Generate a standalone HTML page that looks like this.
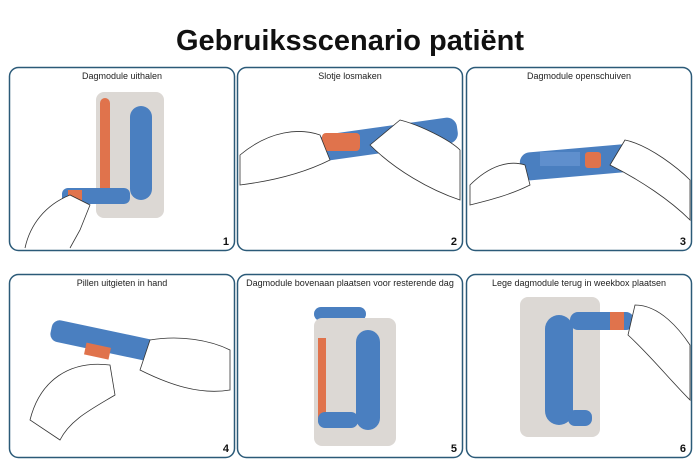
<!DOCTYPE html>
<html><head><meta charset="utf-8"><style>
html,body{margin:0;padding:0;background:#fff;width:700px;height:467px;overflow:hidden}
</style></head><body>
<svg width="700" height="467" viewBox="0 0 700 467" xmlns="http://www.w3.org/2000/svg" font-family="Liberation Sans, sans-serif">
<text x="350" y="50" text-anchor="middle" font-size="29" font-weight="bold" fill="#111">Gebruiksscenario patiënt</text>
<g fill="none" stroke="#2b5a78" stroke-width="1.5">
<rect x="9.5" y="67.5" width="225" height="183" rx="9"/>
<rect x="237.5" y="67.5" width="225" height="183" rx="9"/>
<rect x="466.5" y="67.5" width="225" height="183" rx="9"/>
<rect x="9.5" y="274.5" width="225" height="183" rx="9"/>
<rect x="237.5" y="274.5" width="225" height="183" rx="9"/>
<rect x="466.5" y="274.5" width="225" height="183" rx="9"/>
</g>
<g font-size="9" fill="#222" text-anchor="middle">
<text x="122" y="79">Dagmodule uithalen</text>
<text x="350" y="79">Slotje losmaken</text>
<text x="579" y="79">Dagmodule openschuiven</text>
<text x="122" y="286">Pillen uitgieten in hand</text>
<text x="350" y="286">Dagmodule bovenaan plaatsen voor resterende dag</text>
<text x="579" y="286">Lege dagmodule terug in weekbox plaatsen</text>
</g>
<g font-size="11" font-weight="bold" fill="#111" text-anchor="end">
<text x="229" y="245">1</text><text x="457" y="245">2</text><text x="686" y="245">3</text>
<text x="229" y="452">4</text><text x="457" y="452">5</text><text x="686" y="452">6</text>
</g>
<!-- Panel 1 -->
<rect x="96" y="92" width="68" height="126" rx="8" fill="#dcd8d4"/>
<rect x="130" y="106" width="22" height="94" rx="11" fill="#4a7fc0"/>
<rect x="100" y="98" width="10" height="98" rx="5" fill="#e0734c"/>
<rect x="62" y="188" width="68" height="16" rx="6" fill="#4a7fc0"/>
<rect x="68" y="190" width="14" height="12" fill="#e0734c"/>
<path d="M25 248 C30 225 45 205 70 195 L90 205 L80 230 L70 248" fill="#fff" stroke="#333" stroke-width="0.8"/>
<!-- Panel 2 -->
<rect x="318" y="126" width="140" height="26" rx="10" fill="#4a7fc0" transform="rotate(-8 388 139)"/>
<rect x="322" y="133" width="38" height="18" rx="4" fill="#e0734c"/>
<path d="M240 155 C270 130 300 128 320 135 L330 160 C310 170 280 180 240 185Z" fill="#fff" stroke="#333" stroke-width="0.8"/>
<path d="M460 200 C430 190 395 170 370 145 L400 120 C420 125 450 140 460 150Z" fill="#fff" stroke="#333" stroke-width="0.8"/>
<!-- Panel 3 -->
<rect x="520" y="148" width="120" height="28" rx="10" fill="#4a7fc0" transform="rotate(-5 580 162)"/>
<rect x="540" y="152" width="40" height="14" fill="#5f8fcd"/>
<rect x="585" y="152" width="16" height="16" rx="3" fill="#e0734c"/>
<path d="M470 185 C490 165 510 160 525 165 L530 185 C510 195 490 200 470 205Z" fill="#fff" stroke="#333" stroke-width="0.8"/>
<path d="M690 220 C670 200 640 180 610 165 L625 140 C650 145 680 170 690 180Z" fill="#fff" stroke="#333" stroke-width="0.8"/>
<!-- Panel 4 -->
<rect x="50" y="330" width="110" height="22" rx="8" fill="#4a7fc0" transform="rotate(12 105 341)"/>
<rect x="85" y="345" width="25" height="12" fill="#e0734c" transform="rotate(12 97 351)"/>
<path d="M30 420 C40 380 70 360 110 365 L115 395 C90 410 70 420 60 440Z" fill="#fff" stroke="#333" stroke-width="0.8"/>
<path d="M230 390 C200 395 170 385 140 370 L150 340 C180 335 210 340 230 350Z" fill="#fff" stroke="#333" stroke-width="0.8"/>
<!-- Panel 5 -->
<rect x="314" y="307" width="52" height="14" rx="7" fill="#4a7fc0"/>
<rect x="314" y="318" width="82" height="128" rx="8" fill="#dcd8d4"/>
<rect x="356" y="330" width="24" height="100" rx="12" fill="#4a7fc0"/>
<rect x="318" y="338" width="8" height="84" fill="#e0734c"/>
<rect x="318" y="412" width="40" height="16" rx="7" fill="#4a7fc0"/>
<!-- Panel 6 -->
<rect x="520" y="297" width="80" height="140" rx="8" fill="#dcd8d4"/>
<rect x="545" y="315" width="28" height="110" rx="14" fill="#4a7fc0"/>
<rect x="570" y="312" width="64" height="18" rx="8" fill="#4a7fc0"/>
<rect x="610" y="312" width="14" height="18" fill="#e0734c"/>
<rect x="568" y="410" width="24" height="16" rx="7" fill="#4a7fc0"/>
<path d="M690 400 C670 380 650 355 628 335 L635 305 C660 305 680 330 690 345Z" fill="#fff" stroke="#333" stroke-width="0.8"/>
</svg>
</body></html>
